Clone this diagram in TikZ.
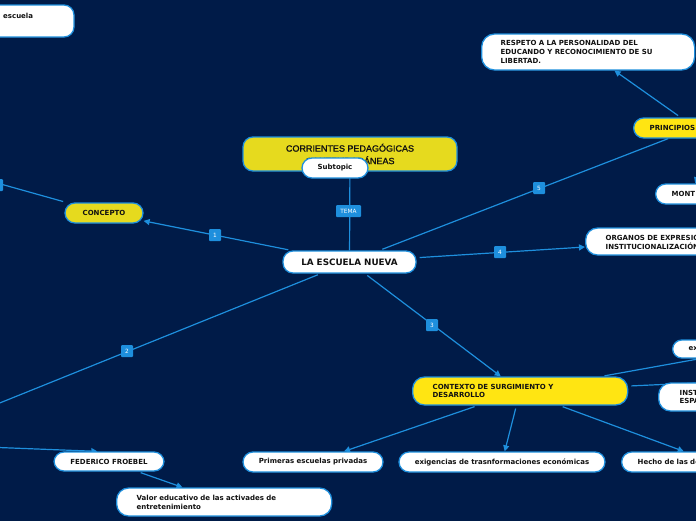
\documentclass[tikz,border=0pt]{standalone}
\usepackage{fontspec}
\setmainfont{DejaVu Sans}
\newfontfamily\corrfont[FakeBold=1.2]{Liberation Sans}
\usetikzlibrary{arrows.meta,calc}
\definecolor{bgnavy}{HTML}{001B48}
\definecolor{lnblue}{HTML}{1E8FDD}
\definecolor{yelA}{HTML}{E6DA1E}
\definecolor{yelB}{HTML}{FFE512}
\definecolor{txt}{HTML}{111111}
\pgfdeclarelayer{back}
\pgfdeclarelayer{bg}
\pgfsetlayers{back,bg,main}
\tikzset{
  wnode/.style={draw=lnblue, line width=1.3pt, fill=white, rounded corners=10pt,
    font=\fontsize{7}{8.8}\selectfont\bfseries, text=txt, inner sep=0pt, minimum height=20pt},
  ynode/.style={wnode, fill=yelB},
  lbl/.style={fill=lnblue, text=white, font=\fontsize{5.8}{6}\selectfont, minimum width=12pt,
    minimum height=12pt, inner sep=1pt, rounded corners=1pt},
  conn/.style={draw=lnblue, line width=1.2pt, shorten <=3pt},
  arr/.style={-{Triangle[length=6pt,width=6pt]}}
}
\begin{document}
\begin{tikzpicture}[x=1pt,y=-1pt]
\useasboundingbox (0,0) rectangle (696,520);
\begin{pgfonlayer}{back}
\fill[bgnavy] (-100,-100) rectangle (800,620);
\end{pgfonlayer}
\clip (0,0) rectangle (696,520);
% nodes
\node[wnode, minimum width=114pt, minimum height=32pt] (esc) at (17,21) {};
\node[font=\fontsize{7}{8.8}\selectfont\bfseries, text=txt, anchor=west, inner sep=0pt] (esct) at (3,16) {escuela};
\node[wnode, fill=yelA, minimum width=214pt, minimum height=34pt, align=center,
  font=\corrfont\fontsize{9}{12.5}\selectfont] (corr) at (350,154) {CORRIENTES PEDAGÓGICAS\\CONTEMPORÁNEAS};
\node[wnode, minimum width=66pt] (sub) at (335,168) {Subtopic};
\node[wnode, minimum width=133pt, minimum height=22pt, font=\fontsize{8.8}{10}\selectfont\bfseries] (main) at (349.5,262) {LA ESCUELA NUEVA};
\node[wnode, fill=yelA, minimum width=78pt] (conc) at (104,213) {CONCEPTO};
\node[wnode, anchor=west, minimum height=36pt, text width=175pt, inner xsep=19pt, align=left, rounded corners=13pt] (resp) at (481,52) {RESPETO A LA PERSONALIDAD DEL\\EDUCANDO Y RECONOCIMIENTO DE SU\\LIBERTAD.};
\node[ynode, anchor=west, text width=92pt, inner xsep=16pt, align=left] (prin) at (633,128) {PRINCIPIOS};
\node[wnode, anchor=west, text width=40pt, inner xsep=16pt, align=left] (mont) at (655,194) {MONT};
\node[wnode, anchor=west, minimum height=27pt, text width=150pt, inner xsep=20pt, align=left, rounded corners=12pt] (orgn) at (585,241.5) {ORGANOS DE EXPRESIÓN\\INSTITUCIONALIZACIÓN};
\node[wnode, anchor=west, minimum height=18pt, text width=130pt, inner xsep=16pt, align=left, rounded corners=9pt] (exn) at (672,349) {ex};
\node[wnode, anchor=west, minimum height=28pt, text width=60pt, inner xsep=21pt, align=left, rounded corners=12pt] (inst) at (658,397) {INST\\ESPA};
\node[ynode, anchor=west, minimum height=28pt, text width=175pt, inner xsep=20pt, align=left, rounded corners=12pt] (cont) at (412,391) {CONTEXTO DE SURGIMIENTO Y\\DESARROLLO};
\node[wnode, minimum width=140pt] (prim) at (313,462) {Primeras escuelas privadas};
\node[wnode, minimum width=206pt] (exig) at (502,462) {exigencias de trasnformaciones económicas};
\node[wnode, anchor=west, text width=150pt, inner xsep=16pt, align=left] (hech) at (621,462) {Hecho de las de};
\node[wnode, minimum width=110pt, minimum height=19pt] (fed) at (109,461.5) {FEDERICO FROEBEL};
\node[wnode, anchor=west, minimum height=28pt, text width=175pt, inner xsep=20pt, align=left, rounded corners=12pt] (valor) at (116,502) {Valor educativo de las activades de\\entretenimiento};
% free ends
\coordinate (offc) at (-60,167);
\coordinate (off2) at (-40,419);
\coordinate (offF) at (-40,446);
\coordinate (tinst) at (760,380);
\coordinate (e4) at ($(orgn.west)+(0,5.5)$);
\coordinate (fedin) at ($(fed.north west)+(44,0)$);
\coordinate (prinm) at ($(prin.center)+(18,0)$);
% connectors
\begin{pgfonlayer}{bg}
\draw[conn] (corr) -- (main);
\draw[conn, arr] (main) -- (conc);
\draw[conn] (conc) -- (offc);
\draw[conn] (main) -- (off2);
\draw[conn, arr] (offF) -- (fedin);
\draw[conn, arr] (fed) -- (valor);
\draw[conn, arr] (main) -- (cont);
\draw[conn, arr] (cont) -- (prim);
\draw[conn, arr] (cont) -- (exig);
\draw[conn, arr] (cont) -- (hech);
\draw[conn] (cont) -- (exn);
\draw[conn] (cont) -- (tinst);
\draw[conn, arr] (main) -- (e4);
\draw[conn] (main) -- (prin);
\draw[conn, arr] (prin) -- (resp);
\draw[conn, arr] (prinm) -- (mont);
\end{pgfonlayer}
% labels
\node[lbl, minimum width=25pt] (ltema) at (348.5,211) {TEMA};
\node[lbl] (l1) at (215,235) {1};
\node[lbl] (l2) at (127,351) {2};
\node[lbl] (l3) at (432,325) {3};
\node[lbl] (l4) at (500,252) {4};
\node[lbl] (l5) at (539,188) {5};
\node[lbl] (l0) at (-3,185) {};
\end{tikzpicture}
\end{document}
